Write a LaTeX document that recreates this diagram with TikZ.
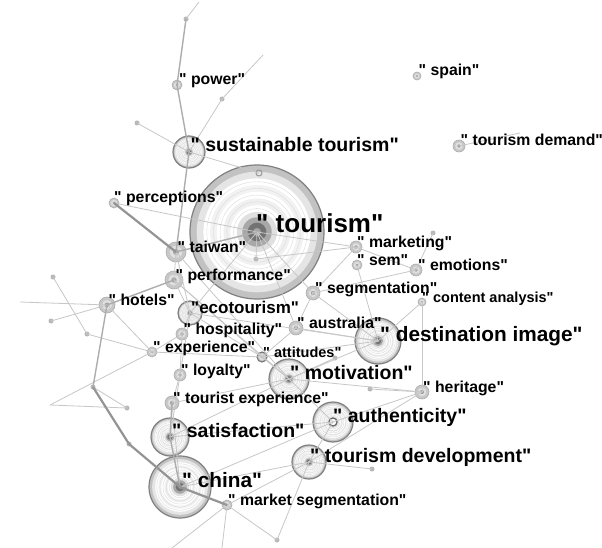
\documentclass[tikz,border=0pt]{standalone}
\usepackage{fontspec}
\newfontfamily\kwfont{Liberation Sans}

\begin{document}
\begin{tikzpicture}[x=1pt, y=-1pt,
    lnk/.style={black!22, line width=0.8pt},
    lnkm/.style={black!32, line width=1.4pt},
    lnkt/.style={black!42, line width=2.2pt},
    dot/.style={fill=black!28},
    rim/.style={draw=black!50, line width=1.2pt},
    rimsmall/.style={draw=black!32, line width=0.6pt},
    lbls/.style={anchor=base west, inner sep=0pt, text=black,
        font=\kwfont\bfseries\fontsize{15.8}{18}\selectfont},
    lblxs/.style={lbls, font=\kwfont\bfseries\fontsize{14.5}{17}\selectfont},
    lblm/.style={lbls, font=\kwfont\bfseries\fontsize{19.5}{22}\selectfont},
    lbll/.style={lbls, font=\kwfont\bfseries\fontsize{20.8}{24}\selectfont},
    lblxl/.style={lbls, font=\kwfont\bfseries\fontsize{26}{30}\selectfont}]
    \useasboundingbox[fill=white] (0,0) rectangle (602,548);

    % keyword positions
    \coordinate (tourism) at (257,232);
    \coordinate (sust) at (189,152);
    \coordinate (power) at (177,85);
    \coordinate (spain) at (417,76);
    \coordinate (tdemand) at (459,146);
    \coordinate (perceptions) at (114,203);
    \coordinate (taiwan) at (176,252);
    \coordinate (performance) at (174,280);
    \coordinate (hotels) at (107,305);
    \coordinate (ecotourism) at (190,313);
    \coordinate (hospitality) at (182,334);
    \coordinate (experience) at (152,352);
    \coordinate (loyalty) at (180,375);
    \coordinate (attitudes) at (262,357);
    \coordinate (australia) at (296,328);
    \coordinate (segmentation) at (313,293);
    \coordinate (marketing) at (356,247);
    \coordinate (sem) at (357,265);
    \coordinate (emotions) at (416,270);
    \coordinate (content) at (422,302);
    \coordinate (destination) at (378,341);
    \coordinate (motivation) at (289,379);
    \coordinate (heritage) at (422,392);
    \coordinate (touristexp) at (172,403);
    \coordinate (authenticity) at (333,422);
    \coordinate (satisfaction) at (170,437);
    \coordinate (tdev) at (309,462);
    \coordinate (china) at (180,487);
    \coordinate (marketseg) at (227,505);

    % minor points
    \coordinate (d0) at (199,2);
    \coordinate (d2) at (186,19);
    \coordinate (d3) at (222,99);
    \coordinate (d4) at (263,55);
    \coordinate (d5) at (137,123);
    \coordinate (d6) at (433,233);
    \coordinate (d7) at (53,277);
    \coordinate (d8) at (51,321);
    \coordinate (d9) at (87,334);
    \coordinate (d10) at (93,387);
    \coordinate (d11) at (127,408);
    \coordinate (d12) at (129,444);
    \coordinate (d13) at (20,302);
    \coordinate (d14) at (50,405);
    \coordinate (d15) at (277,540);
    \coordinate (d16) at (172,548);
    \coordinate (d17) at (259,173);
    \coordinate (d18) at (256,259);
    \coordinate (d19) at (335,358);
    \coordinate (d20) at (520,133);
    \coordinate (d21) at (222,548);
    \coordinate (d22) at (372,469);
    \coordinate (d23) at (370,389);

    % keyword discs
    \foreach \n/\r in {tourism/67, sust/16, power/5, spain/4, tdemand/6, perceptions/5,
        taiwan/10, performance/9, hotels/8, ecotourism/12, hospitality/6, experience/5,
        loyalty/6, attitudes/5, australia/7, segmentation/7, marketing/6, sem/5,
        emotions/6, content/4, destination/23, motivation/20, heritage/7, touristexp/7,
        authenticity/20, satisfaction/19, tdev/17, china/31, marketseg/5} {
        \ifdim\r pt<11pt
            \fill[black!22] (\n) circle (\r pt);
            \fill[black!12] (\n) circle ({0.62*\r pt});
            \fill[black!36] (\n) circle ({0.3*\r pt});
            \draw[rimsmall] (\n) circle (\r pt);
        \else
            \foreach \f/\c in {1/black!24, 0.9/black!10, 0.8/white, 0.7/black!5, 0.6/white,
                0.5/black!6, 0.4/white, 0.3/black!12, 0.22/black!34, 0.14/black!55, 0.06/black!35}
                \fill[\c] (\n) circle ({\f*\r pt});
            \foreach \f in {0.75,0.65,0.55,0.45,0.35}
                \draw[black!14, line width=0.4pt] (\n) circle ({\f*\r pt});
            \draw[rim] (\n) circle (\r pt);
        \fi
    }
    \draw[black!55, line width=1pt] (attitudes) circle (5pt);
    \draw[black!60, line width=1.2pt, fill=white] (authenticity) circle (4pt);
    \foreach \n in {d2,d3,d5,d6,d7,d8,d9,d10,d11,d12,d15,d18,d19,d22,d23}
        \fill[dot] (\n) circle (2.5pt);
    \draw[black!40, line width=1pt] (d17) circle (3pt);

    % links
    \foreach \a/\b in {d0/d2, d3/d4, d3/sust, d5/sust, sust/d17, tdemand/d20, perceptions/tourism,
        taiwan/performance, taiwan/ecotourism, taiwan/motivation, tourism/marketing,
        tourism/segmentation, tourism/ecotourism, tourism/australia, d18/marketing, tourism/d18,
        marketing/emotions, emotions/d6, marketing/segmentation, sem/destination,
        segmentation/destination, segmentation/australia, content/destination, content/heritage,
        destination/australia, destination/motivation, destination/attitudes, destination/ecotourism,
        heritage/motivation, heritage/authenticity, heritage/tdev, motivation/attitudes,
        motivation/authenticity, motivation/satisfaction, motivation/touristexp,
        authenticity/tdev, authenticity/satisfaction, authenticity/china, tdev/china,
        tdev/marketseg, tdev/d15, china/touristexp, satisfaction/ecotourism,
        touristexp/loyalty, loyalty/hospitality, hospitality/ecotourism, ecotourism/performance,
        hotels/d8, hotels/d13, hotels/experience, experience/d14, experience/attitudes,
        experience/hospitality, attitudes/ecotourism, attitudes/australia, attitudes/performance,
        marketseg/d16, marketseg/d21, marketseg/d15, d11/d14, d11/d10, d7/d9, d9/experience,
        emotions/segmentation, performance/motivation, d19/motivation, d23/heritage, d22/tdev}
        \draw[lnk] (\a) -- (\b);
    \foreach \a/\b in {d2/power, power/sust, sust/taiwan, taiwan/tourism,
        hotels/performance, hotels/d10, china/satisfaction, satisfaction/touristexp}
        \draw[lnkm] (\a) -- (\b);
    \foreach \a/\b in {perceptions/taiwan, china/marketseg, china/d12, d10/d12}
        \draw[lnkt] (\a) -- (\b);

    % labels
    \node[lbls] (power-l) at ([xshift=2pt]power) {" power"};
    \node[lbls] (spain-l) at ([xshift=1.5pt]spain) {" spain"};
    \node[lbls] (tdemand-l) at ([xshift=1.5pt]tdemand) {" tourism demand"};
    \node[lblm] (sust-l) at ([xshift=1.5pt]sust) {" sustainable tourism"};
    \node[lbls] (perceptions-l) at (perceptions) {" perceptions"};
    \node[lblxl] (tourism-l) at ([xshift=-1pt]tourism) {" tourism"};
    \node[lbls] (taiwan-l) at ([xshift=1.5pt]taiwan) {" taiwan"};
    \node[lbls] (performance-l) at ([xshift=1.5pt]performance) {" performance"};
    \node[lbls] (hotels-l) at ([xshift=1.5pt]hotels) {" hotels"};
    \node[lbls, font=\kwfont\bfseries\fontsize{17}{20}\selectfont] (ecotourism-l)
        at ([xshift=1pt]ecotourism) {"ecotourism"};
    \node[lbls] (hospitality-l) at ([xshift=1.5pt]hospitality) {" hospitality"};
    \node[lbls] (experience-l) at ([xshift=1pt]experience) {" experience"};
    \node[lbls] (loyalty-l) at ([xshift=1pt]loyalty) {" loyalty"};
    \node[lblxs] (attitudes-l) at ([xshift=1pt]attitudes) {" attitudes"};
    \node[lbls] (australia-l) at ([xshift=1pt]australia) {" australia"};
    \node[lbls] (segmentation-l) at ([xshift=2pt]segmentation) {" segmentation"};
    \node[lbls] (marketing-l) at ([xshift=1pt]marketing) {" marketing"};
    \node[lbls] (sem-l) at (sem) {" sem"};
    \node[lbls] (emotions-l) at ([xshift=2pt]emotions) {" emotions"};
    \node[lblxs] (content-l) at (content) {" content analysis"};
    \node[lbll] (destination-l) at ([xshift=2pt]destination) {" destination image"};
    \node[lblm] (motivation-l) at ([xshift=1pt]motivation) {" motivation"};
    \node[lbls] (heritage-l) at ([xshift=1pt]heritage) {" heritage"};
    \node[lbls] (touristexp-l) at ([xshift=1pt]touristexp) {" tourist experience"};
    \node[lblm] (authenticity-l) at (authenticity) {" authenticity"};
    \node[lblm] (satisfaction-l) at ([xshift=2pt]satisfaction) {" satisfaction"};
    \node[lblm] (tdev-l) at ([xshift=1pt]tdev) {" tourism development"};
    \node[lbll] (china-l) at ([xshift=2pt]china) {" china"};
    \node[lbls] (marketseg-l) at ([xshift=1pt]marketseg) {" market segmentation"};
\end{tikzpicture}
\end{document}
